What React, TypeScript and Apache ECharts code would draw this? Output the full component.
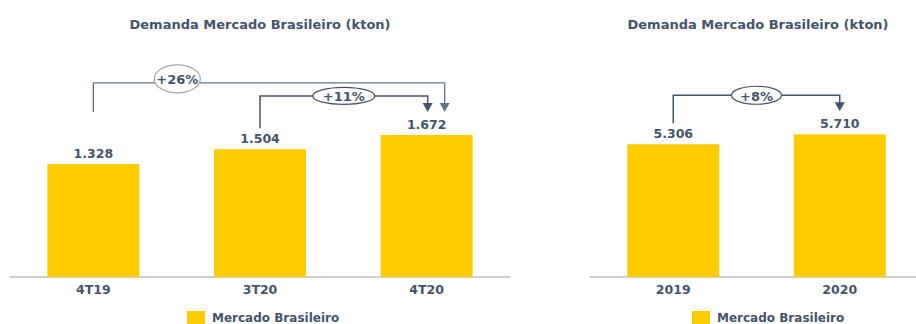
import React, { useEffect, useRef } from "react";
import * as echarts from "echarts";

const quarterCategories = ["4T19", "3T20", "4T20"];
const quarterValues = [1.328, 1.504, 1.672];
const yearCategories = ["2019", "2020"];
const yearValues = [5.306, 5.71];
const seriesName = "Mercado Brasileiro";
const titleText = "Demanda Mercado Brasileiro (kton)";
const growthQuarterYoY = "+26%";
const growthQuarterQoQ = "+11%";
const growthYear = "+8%";

const DARK = "#44546A";
const YELLOW = "#FFCC00";
const FONT = "DejaVu Sans";

const fmt = (v: number) => v.toFixed(3);

export default function App() {
  const ref = useRef<HTMLDivElement>(null);
  useEffect(() => {
    if (!ref.current) return;
    const chart = echarts.init(ref.current, undefined, { renderer: "svg" });
    const labelStyle = {
      show: true,
      position: "top" as const,
      distance: 4,
      color: DARK,
      fontFamily: FONT,
      fontWeight: "bold" as const,
      fontSize: 12.5,
      formatter: (p: any) => fmt(p.value),
    };
    const xAxisCommon = {
      type: "category" as const,
      axisLine: { lineStyle: { color: "#BFBFBF", width: 1.5 } },
      axisTick: { show: false },
      axisLabel: {
        color: DARK,
        fontFamily: FONT,
        fontWeight: "bold" as const,
        fontSize: 12.5,
        margin: 6,
      },
    };
    const titleStyle = { color: DARK, fontFamily: FONT, fontWeight: "bold" as const, fontSize: 13 };
    const legendText = { color: DARK, fontFamily: FONT, fontWeight: "bold" as const, fontSize: 12, padding: [0, 0, 0, 2] };
    chart.setOption({
      animation: false,
      title: [
        { text: titleText, left: 260, top: 18, padding: 0, textAlign: "center", textStyle: titleStyle },
        { text: titleText, left: 758, top: 18, padding: 0, textAlign: "center", textStyle: titleStyle },
      ],
      legend: [
        {
          data: [seriesName],
          left: 187,
          top: 311,
          padding: 0,
          icon: "rect",
          itemWidth: 18,
          itemHeight: 14,
          textStyle: legendText,
        },
        {
          data: [seriesName],
          left: 692,
          top: 311,
          padding: 0,
          icon: "rect",
          itemWidth: 18,
          itemHeight: 14,
          textStyle: legendText,
        },
      ],
      grid: [
        { left: 10, width: 500, top: 107, height: 170 },
        { left: 590, width: 333, top: 102, height: 175 },
      ],
      xAxis: [
        { ...xAxisCommon, gridIndex: 0, data: quarterCategories },
        { ...xAxisCommon, gridIndex: 1, data: yearCategories },
      ],
      yAxis: [
        { type: "value", gridIndex: 0, min: 0, max: 2, show: false },
        { type: "value", gridIndex: 1, min: 0, max: 7, show: false },
      ],
      series: [
        {
          type: "bar",
          name: seriesName,
          xAxisIndex: 0,
          yAxisIndex: 0,
          data: quarterValues,
          barWidth: 92,
          itemStyle: { color: YELLOW },
          label: labelStyle,
        },
        {
          type: "bar",
          name: seriesName,
          xAxisIndex: 1,
          yAxisIndex: 1,
          data: yearValues,
          barWidth: 92,
          itemStyle: { color: YELLOW },
          label: labelStyle,
        },
      ],
    });

    const px = (axis: number, i: number, v: number) =>
      chart.convertToPixel({ xAxisIndex: axis, yAxisIndex: axis } as any, [i, v]) as number[];

    const arrowHead = (x: number, y: number, color: string) => ({
      type: "polygon",
      shape: { points: [[x - 5, y - 9], [x + 5, y - 9], [x, y]] },
      style: { fill: color },
      z: 10,
    });
    const bubble = (cx: number, cy: number, rx: number, ry: number, text: string, stroke: string) => [
      {
        type: "ellipse",
        shape: { cx, cy, rx, ry },
        style: { fill: "#fff", stroke, lineWidth: 1.2 },
        z: 11,
      },
      {
        type: "text",
        x: cx,
        y: cy + 1,
        style: {
          text,
          fill: DARK,
          font: `bold 13px "${FONT}"`,
          align: "center",
          verticalAlign: "middle",
        },
        z: 12,
      },
    ];

    const a0 = px(0, 0, quarterValues[0]);
    const a1 = px(0, 1, quarterValues[1]);
    const a2 = px(0, 2, quarterValues[2]);
    const b0 = px(1, 0, yearValues[0]);
    const b1 = px(1, 1, yearValues[1]);

    const LINE2 = "#5F7584";
    const tipQ = a2[1] - 23;
    const levelYoY = tipQ - 29;
    const levelQoQ = tipQ - 16;
    const xYoYEnd = a2[0] + 18;
    const xQoQEnd = a2[0] + 1;

    const tipY = b1[1] - 23;
    const levelY = tipY - 16;

    const graphic: any[] = [
      {
        type: "polyline",
        shape: { points: [[a0[0], tipQ], [a0[0], levelYoY], [xYoYEnd, levelYoY], [xYoYEnd, tipQ - 8]] },
        style: { stroke: LINE2, lineWidth: 1.3, fill: null },
        z: 9,
      },
      arrowHead(xYoYEnd, tipQ, LINE2),
      ...bubble(a0[0] + 84, levelYoY - 4, 23, 14, growthQuarterYoY, "#A6A6A6"),
      {
        type: "polyline",
        shape: { points: [[a1[0], a1[1] - 21], [a1[0], levelQoQ], [xQoQEnd, levelQoQ], [xQoQEnd, tipQ - 8]] },
        style: { stroke: DARK, lineWidth: 1.5, fill: null },
        z: 9,
      },
      arrowHead(xQoQEnd, tipQ, DARK),
      ...bubble((a1[0] + xQoQEnd) / 2, levelQoQ, 31, 8.5, growthQuarterQoQ, DARK),
      {
        type: "polyline",
        shape: { points: [[b0[0], b0[1] - 21], [b0[0], levelY], [b1[0], levelY], [b1[0], tipY - 8]] },
        style: { stroke: DARK, lineWidth: 1.5, fill: null },
        z: 9,
      },
      arrowHead(b1[0], tipY, DARK),
      ...bubble((b0[0] + b1[0]) / 2, levelY, 25, 9, growthYear, DARK),
    ];
    chart.setOption({ graphic });

    return () => chart.dispose();
  }, []);
  return (
    <div style={{ position: "absolute", left: 0, top: 0, width: 916, height: 324, overflow: "hidden" }}>
      <div ref={ref} style={{ width: 930, height: 324 }} />
    </div>
  );
}
